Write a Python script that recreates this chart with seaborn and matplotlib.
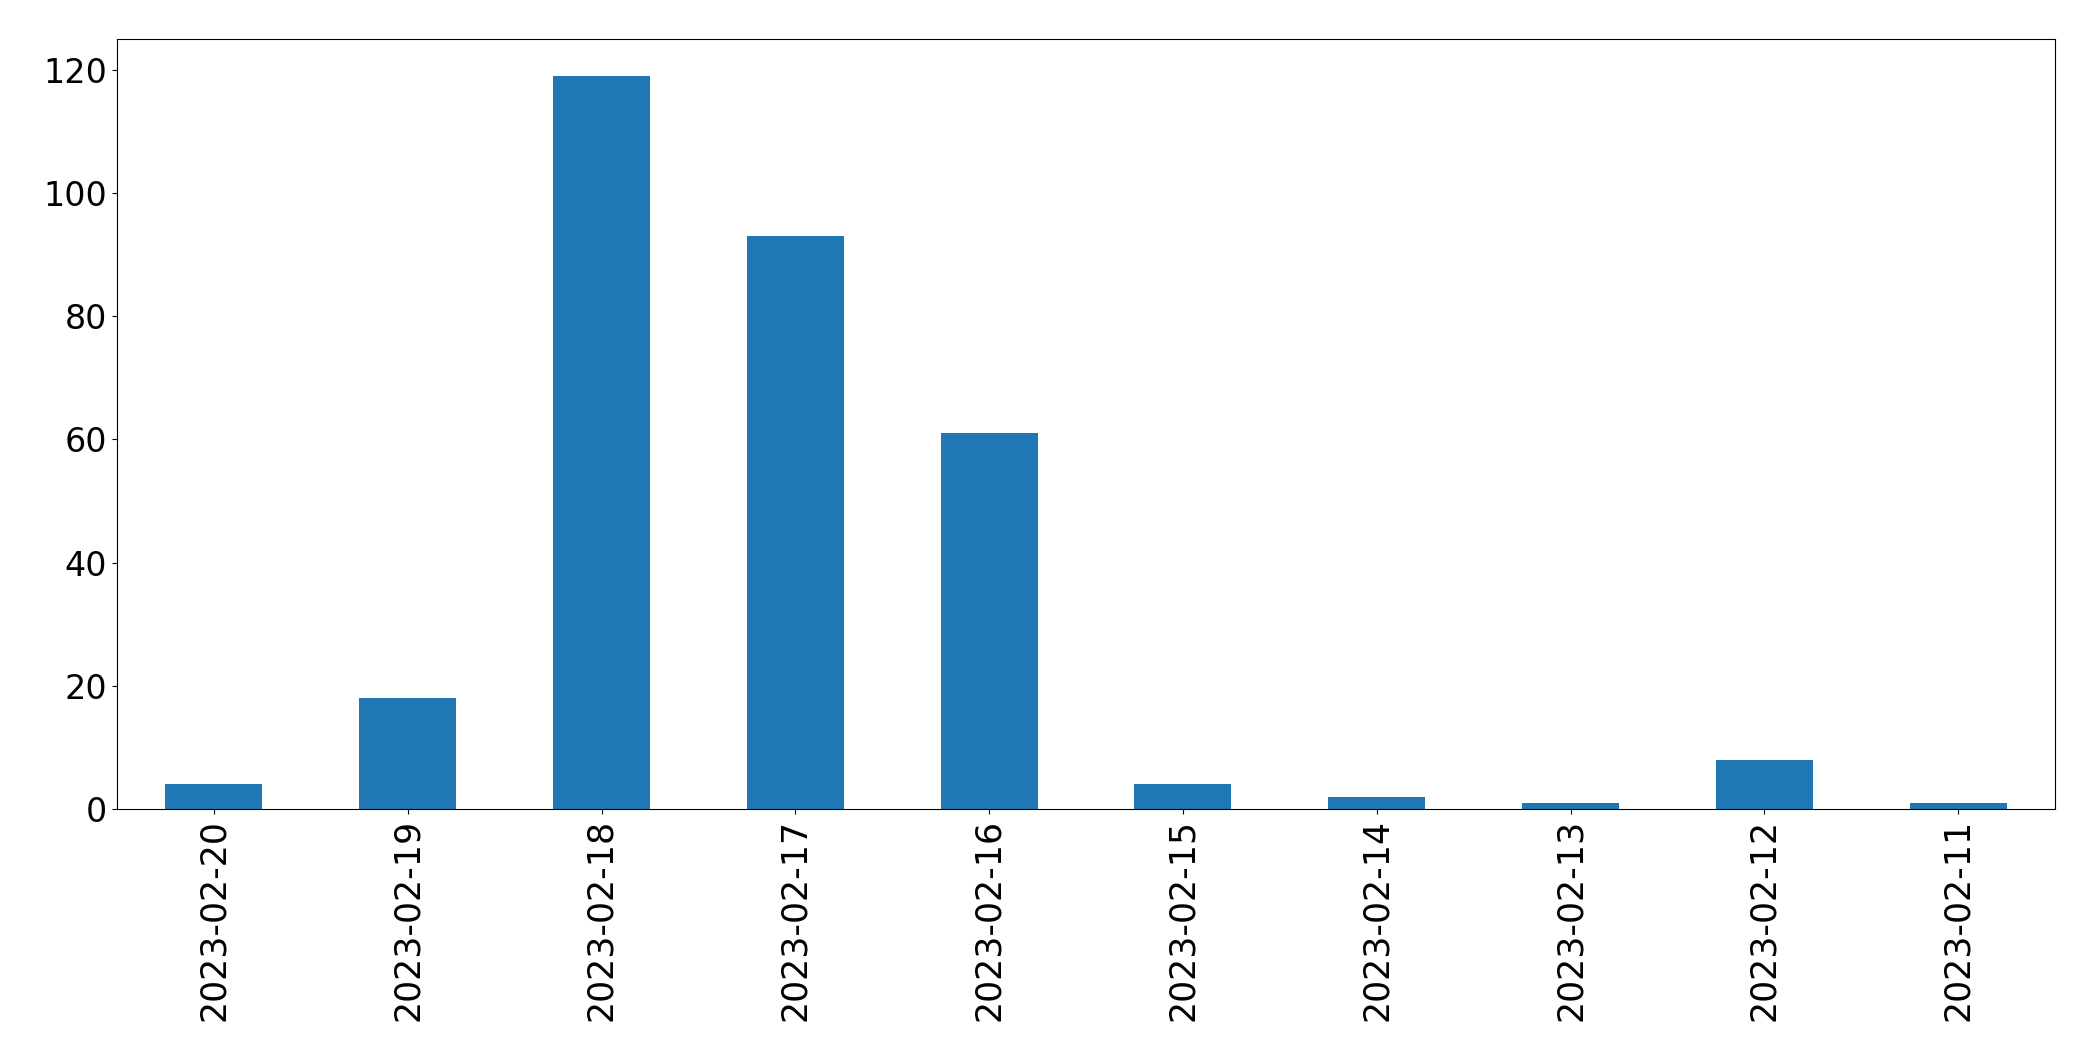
import matplotlib
matplotlib.use("Agg")
import matplotlib.pyplot as plt
import seaborn as sns
import pandas as pd

dates = ["2023-02-20", "2023-02-19", "2023-02-18", "2023-02-17", "2023-02-16",
         "2023-02-15", "2023-02-14", "2023-02-13", "2023-02-12", "2023-02-11"]
counts = [4, 18, 119, 93, 61, 4, 2, 1, 8, 1]

df = pd.DataFrame({"date": dates, "count": counts})

plt.rcParams["font.family"] = ["DejaVu Sans"]
fig = plt.figure(figsize=(20.93, 10.61), dpi=100)
ax = fig.add_axes([117/2093, 1 - 809/1061, 1938/2093, 770/1061])
sns.barplot(data=df, x="date", y="count", order=dates, color="#1f77b4",
            saturation=1, width=0.5, ax=ax)
ax.set_xlim(-0.5, len(dates) - 0.5)
ax.set_ylim(0, max(counts) * 1.05)
ax.set_xlabel("")
ax.set_ylabel("")
ax.tick_params(axis="x", labelsize=25, rotation=90)
ax.tick_params(axis="y", labelsize=24)
for s in ax.spines.values():
    s.set_visible(True)
    s.set_color("black")
fig.savefig("out.png", dpi=100)
